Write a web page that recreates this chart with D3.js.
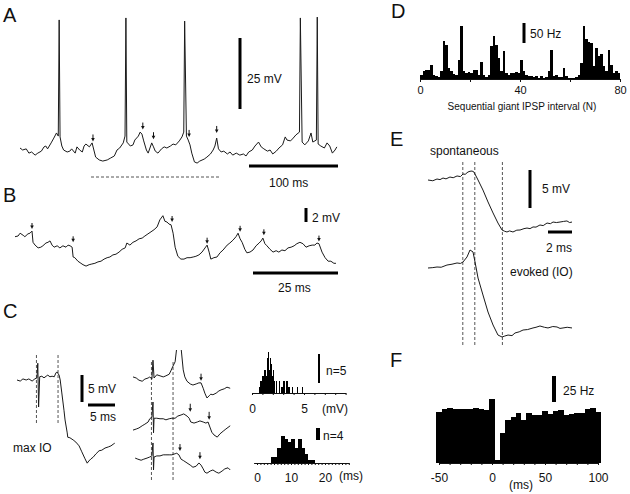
<!DOCTYPE html>
<html lang="en">
<head>
<meta charset="UTF-8">
<title>IPSP figure</title>
<style>
  body { margin: 0; background: #fff; }
  svg { display: block; font-family: "Liberation Sans", Arial, sans-serif; }
  .trace { fill: none; stroke: #1a1a1a; stroke-width: 1; stroke-linejoin: round; }
  .sbar { stroke: #000; }
  .dash { stroke: #555; stroke-width: 1; stroke-dasharray: 3,2; }
  .lbl { font-size: 12px; fill: #111; }
  .panel { font-size: 20px; fill: #111; }
  .hist rect { shape-rendering: crispEdges; }
</style>
<script src="https://d3js.org/d3.v7.min.js"></script>
</head>
<body>
<svg width="630" height="494"></svg>
<script>
// ---- A: long recording, [ms, mV] ----
var aTrace = [[0,0.7],[3,0],[7,0.4],[10,-1.1],[13,-0.7],[17,-1.8],[20,-1.1],[24,-0.4],[27,1.1],[29,1.4],[31,0.4],[35,2.5],[38,4.2],[41,6],[43,4.9],[44,45.8],[45,4.6],[47,1.4],[49,0],[53,-0.7],[56,-0.4],[58,0.4],[62,-1.1],[64,1.1],[67,0],[70,-0.7],[72,1.4],[74,2.1],[78,1.1],[81,2.5],[83,0],[85,-2.5],[89,-3.5],[93,-3.9],[98,-3.5],[102,-2.8],[106,-2.1],[109,0],[112,0.7],[116,2.5],[118,4.9],[119,46.5],[120,2.8],[124,1.4],[127,1.8],[129,3.5],[133,4.9],[135,6.3],[137,5.6],[139,3.2],[142,0],[144,-1.1],[146,0.7],[148,2.5],[150,1.1],[152,-0.4],[155,-1.1],[159,0.4],[162,1.1],[165,0.7],[169,1.4],[172,2.1],[175,1.8],[179,3.2],[182,4.6],[184,6.3],[185,45.4],[187,4.9],[189,3.5],[191,1.8],[193,-1.1],[196,-4.2],[199,-4.6],[202,-3.9],[207,-3.2],[210,-2.5],[214,-1.4],[217,0],[219,1.4],[221,4.2],[223,0.4],[226,-0.7],[229,-0.4],[233,-1.4],[236,-0.7],[239,-1.8],[243,-1.1],[247,-1.8],[251,-1.4],[254,-2.1],[257,-0.7],[261,0],[264,1.4],[268,2.8],[271,1.1],[274,0.4],[278,-0.4],[281,0],[284,-1.4],[288,-0.4],[291,0.7],[295,1.8],[298,4.6],[300,3.5],[304,3.2],[307,4.2],[310,5.3],[314,6.3],[315,46.5],[317,2.8],[320,1.8],[324,3.2],[327,6],[329,2.8],[333,3.5],[334,46.8],[335,2.1],[338,1.4],[342,0.7],[345,2.5],[348,1.4],[351,-1.1],[354,0],[356,1.1]];
var aArrows = [[82,3],[138,7.2],[150,3.8],[190,4.6],[221,6]];

// ---- B: zoomed recording, [ms, mV] ----
var bTrace = [[0,1.9],[0.9,2],[1.5,2.4],[2.4,2.1],[2.9,1.9],[3.8,2.3],[4.4,2.4],[5,2.7],[5.3,1.1],[5.9,0.7],[6.8,0.3],[7.6,0.4],[8.2,0.6],[9.1,1],[9.7,1.1],[10.3,1.3],[10.9,0.7],[11.5,0.4],[12.4,0.6],[13.2,0.3],[14.1,0.6],[15,0.4],[15.6,0.7],[16.2,0.6],[16.8,0.4],[17.1,-1],[17.6,-1.1],[18.5,-1.6],[19.4,-1.9],[20,-2.1],[20.9,-2.3],[21.8,-2.1],[22.6,-2],[23.5,-1.9],[24.4,-1.7],[25.3,-1.6],[26.2,-1.3],[27.1,-1.1],[27.9,-1],[28.8,-0.7],[29.7,-0.6],[30.6,-0.3],[31.5,0.1],[32.4,0.3],[32.9,1],[33.8,0.7],[34.7,1.1],[35.6,1.3],[36.5,1.6],[37.4,1.7],[38.2,2],[39.1,2.3],[40,2.6],[40.9,2.9],[41.8,3.3],[42.6,4.3],[43.5,4.9],[44.1,4.1],[44.7,4],[45.3,3.7],[45.9,3.6],[46.5,2.4],[47.1,0.4],[47.9,-0.9],[48.8,-1.3],[49.7,-1.3],[50.6,-1.1],[51.5,-1.1],[52.4,-1],[53.2,-0.9],[54.1,-0.7],[55,-0.3],[55.9,0.3],[56.5,0.7],[57.1,-0.3],[57.6,-1.3],[58.5,-1.1],[59.4,-1],[60.3,-0.4],[61.2,0],[62.4,0.7],[63.2,1],[64.1,1.4],[65,1.9],[65.6,2.4],[66.2,1.6],[66.8,1.1],[67.6,0.1],[68.2,-0.4],[69.1,-0.3],[70,0],[70.9,0.6],[71.8,1],[72.4,1.3],[72.9,1.7],[73.5,0.9],[74.1,0.6],[75,0.1],[75.9,-0.3],[76.8,-0.1],[77.6,-0.3],[78.5,0],[79.4,-0.1],[80.3,0.3],[81.2,0.4],[82.1,0.6],[82.9,0.9],[83.8,1.1],[84.7,0.9],[85.6,0.4],[86.5,0.6],[87.4,0.7],[88.2,0.7],[88.8,1],[89.4,0.9],[90.3,-0.3],[91.2,-1.1],[92.1,-1.6],[92.9,-1.6],[93.8,-1.9],[94.4,-1.9]];
var bArrows = [[5,3],[17.1,1.1],[46.2,4],[56.5,0.9],[66.2,2.6],[73.2,2.1],[89.4,1.2]];

// ---- C: evoked and spontaneous IPSPs, [ms, mV] ----
var cMaxIO = [[0,0],[0.6,-0.2],[1.1,0.2],[1.7,0],[2.2,0.2],[2.8,-0.2],[3.3,0.2],[3.7,0.4],[3.85,3.1],[4.0,-5],[4.2,0.6],[4.6,0.7],[5,0.4],[5.4,0.7],[5.7,0.9],[6.1,0.6],[6.5,0.7],[6.9,0.6],[7.2,1.3],[7.4,1.5],[7.8,0.9],[8,0],[8.3,-2.4],[8.7,-5.6],[8.9,-7.4],[9.3,-9.8],[9.4,-10.6],[9.8,-10.7],[10.4,-11.1],[10.9,-11.5],[11.5,-12.2],[12,-13.3],[12.6,-14.6],[13,-15.4],[13.3,-15],[13.7,-14.6],[14.1,-14.3],[14.6,-13.7],[15.2,-13.1],[15.7,-13],[16.3,-12.6],[16.9,-12.4],[17.4,-12.2],[17.8,-11.9],[18.1,-11.7]];
var cTrace1 = [[0,0.2],[0.6,0],[1.1,-0.4],[1.7,-0.6],[2.2,-0.2],[2.8,0],[3.1,0.2],[3.5,-0.2],[3.7,3.3],[3.9,0],[4.4,0.6],[5,0.4],[5.6,0.2],[6.1,0.4],[6.7,0.7],[7,1.3],[7.4,2.2],[7.8,3],[8.1,5.6],[8.5,7],[8.9,5.6],[9.3,1.5],[9.6,0.2],[10,-0.6],[10.6,-1.1],[11.1,-1.3],[11.7,-1.1],[12.2,-0.9],[12.6,-0.9],[13,-1.9],[13.3,-2.8],[13.7,-3.7],[14.1,-3.3],[14.4,-3],[14.8,-3.1],[15.4,-2.8],[15.9,-2.4],[16.3,-2.2],[16.9,-2],[17.4,-1.7],[18,-1.9]];
var cTrace2 = [[0,-1.5],[0.6,-1.3],[1.1,-1.1],[1.7,-0.7],[2.2,-0.4],[2.8,0],[3.1,0.6],[3.5,0.9],[3.7,3.7],[3.8,-2],[3.9,0.7],[4.4,0.7],[5,0.6],[5.6,0.6],[6.1,0.4],[6.7,0.6],[7.2,0.7],[7.8,0.7],[8.3,1.1],[8.9,1.3],[9.4,1.5],[10,1.1],[10.4,0.7],[10.7,0],[11.3,-0.2],[11.9,0],[12.4,0.2],[13,0],[13.5,-0.2],[13.9,0],[14.3,-1.1],[14.6,-1.9],[15,-2.4],[15.6,-2.8],[16.1,-2.2],[16.7,-1.7],[17.2,-1.3],[18,-0.7]];
var cTrace3 = [[0.4,-0.2],[0.9,-0.4],[1.5,-0.6],[2,-0.4],[2.6,-0.2],[3.1,0],[3.5,0.2],[3.7,2.6],[3.8,-2.4],[3.9,0],[4.4,0.2],[5,0.2],[5.6,0.4],[6.1,0.4],[6.7,0.4],[7.2,0.4],[7.8,0.6],[8.1,0.7],[8.5,0.4],[8.9,-0.4],[9.4,-0.7],[10,-1.1],[10.6,-1.5],[11.1,-1.9],[11.7,-1.7],[12.2,-1.1],[12.6,-1.5],[13,-2.2],[13.3,-2.8],[13.7,-3],[14.3,-2.6],[14.8,-2.4],[15.4,-2.8],[15.9,-3],[16.5,-2.6],[17,-2.2],[17.6,-2],[18,-2.4]];
var cArrows1 = [[12.6,-0.5]];
var cArrows2 = [[10.6,1.9],[14.1,0.4]];
var cArrows3 = [[8.7,1.1],[12.4,-0.4]];
var cDashes = [3.6, 7.6];

// amplitude histogram (mV bins of 0.1) and latency histogram (ms bins of 1)
var ampMv = [0.7,0.8,0.9,1.0,1.1,1.2,1.3,1.4,1.5,1.6,1.7,1.8,1.9,2.0,2.1,2.3,2.6,2.8,3.0,3.3,3.5,3.8,4.3,4.8];
var ampN  = [1,2,1,3,2,4,3,6,7,4,6,5,3,4,2,2,2,1,2,2,1,1,1,1];
var latMs = [4,5,6,7,8,9,10,11,12,13,14,15,16];
var latN  = [2,2,5,9,8,7,8,5,8,5,3,1,1];

// ---- D: rate per sequential interval (Hz) ----
var dRate = [11,19,22,22,35,10,8,5,20,95, 85,28,20,12,10,48,132,20,15,18, 15,22,22,10,42,10,5,10,82,108, 85,52,20,70,15,10,15,15,18,15, 48,20,10,8,8,5,8,3,8,3, 5,20,72,8,10,5,5,28,8,3, 3,3,5,10,40,132,100,92,90,32, 78,58,62,32,20,72,35,15,20,15];

// ---- E: spontaneous vs evoked, [ms, mV] ----
var eSpont = [[0,0],[0.4,-0.1],[0.75,0.13],[1,0.05],[1.25,0.26],[1.5,0.15],[1.83,0.39],[2.1,0.3],[2.42,0.53],[2.7,0.45],[2.92,0.79],[3.1,0.75],[3.33,1.05],[3.5,1.15],[3.67,1.18],[3.83,1.05],[4.17,0],[4.58,-1.32],[5,-2.89],[5.42,-4.34],[5.83,-5.66],[6.17,-6.58],[6.4,-6.75],[6.58,-6.84],[6.8,-6.7],[7.08,-6.84],[7.4,-6.6],[7.67,-6.58],[8,-6.4],[8.25,-6.32],[8.5,-6.4],[8.75,-6.18],[9,-6.2],[9.33,-5.92],[9.6,-6],[9.92,-5.66],[10.2,-5.75],[10.42,-5.53],[10.7,-5.6],[11,-5.53],[11.3,-5.45],[11.58,-5.39],[11.8,-5.6],[12,-5.53]];
var eEvoked = [[0,0],[0.4,0.05],[0.75,0.13],[1.1,0.1],[1.58,0.39],[2,0.5],[2.42,0.66],[2.7,0.6],[2.92,0.79],[3.25,1.45],[3.5,2.37],[3.75,2.11],[3.92,0.79],[4.17,-1.32],[4.58,-3.55],[5,-5.79],[5.42,-7.5],[5.83,-8.82],[6.17,-9.08],[6.4,-8.95],[6.67,-8.82],[7,-8.9],[7.25,-8.55],[7.6,-8.4],[7.92,-8.16],[8.3,-8.1],[8.75,-7.89],[9,-7.8],[9.33,-7.63],[9.7,-7.8],[10,-7.89],[10.4,-7.7],[10.75,-7.76],[11,-7.95],[11.25,-7.89],[11.6,-7.8],[12,-7.89]];
var eDashes = [2.9, 3.9, 6.2];

// ---- F: cross-correlogram (ms bin centres, Hz) ----
var fBins = [-50,-45,-40,-35,-30,-25,-20,-15,-10,-5,0,5,10,15,20,25,30,35,40,45,50,55,60,65,70,75,80,85,90,95,100];
var fRate = [49,52,53,52,52,52,52,53,52,51,62,3,29,41,44,48,41,48,46,46,50,47,50,51,46,47,48,48,52,53,49];

var svg = d3.select("svg");
svg.append("rect").attr("width", 630).attr("height", 494).attr("fill", "#fff");

function panelLetter(t, x, y) {
    svg.append("text").attr("class", "panel").attr("x", x).attr("y", y).text(t);
}
function label(t, x, y, size, anchor) {
    svg.append("text").attr("class", "lbl").attr("x", x).attr("y", y)
        .style("font-size", (size || 12) + "px")
        .attr("text-anchor", anchor || "start").text(t);
}
function vBar(x, y, len, w) {
    svg.append("line").attr("class", "sbar").attr("x1", x).attr("x2", x)
        .attr("y1", y).attr("y2", y + len).attr("stroke-width", w || 3);
}
function hBar(x, y, len, w) {
    svg.append("line").attr("class", "sbar").attr("x1", x).attr("x2", x + len)
        .attr("y1", y).attr("y2", y).attr("stroke-width", w || 3);
}
function arrow(x, y, len) {
    svg.append("line").attr("x1", x).attr("x2", x).attr("y1", y - len).attr("y2", y - 3)
        .attr("stroke", "#111").attr("stroke-width", 1);
    svg.append("path").attr("d", "M" + (x - 1.8) + "," + (y - 3.5) + "L" + (x + 1.8) + "," + (y - 3.5) + "L" + x + "," + y + "Z")
        .attr("fill", "#111");
}
function trace(data, x, y, clip) {
    var line = d3.line().x(function (d) { return x(d[0]); }).y(function (d) { return y(d[1]); });
    var p = svg.append("path").datum(data).attr("class", "trace").attr("d", line);
    if (clip) p.attr("clip-path", clip);
    return p;
}
function dashV(x, y1, y2) {
    svg.append("line").attr("class", "dash").attr("x1", x).attr("x2", x).attr("y1", y1).attr("y2", y2);
}
function styleAxis(g, fs) {
    g.attr("font-size", fs).attr("font-family", null);
    g.selectAll("path, line").attr("stroke", "#111");
    g.selectAll("text").attr("fill", "#111");
}

// ===== A =====
panelLetter("A", 3, 22);
var xA = d3.scaleLinear().domain([0, 100]).range([20, 109]);
var yA = d3.scaleLinear().domain([0, 25]).range([150, 79]);
trace(aTrace, xA, yA);
aArrows.forEach(function (d) { arrow(xA(d[0]), yA(d[1]), 7); });
vBar(240, 38, yA(0) - yA(25));
label("25 mV", 247, 83);
hBar(249, 166, xA(100) - xA(0));
label("100 ms", 269, 187);
svg.append("line").attr("class", "dash").attr("x1", 91).attr("x2", 220).attr("y1", 177).attr("y2", 177);

// ===== B =====
panelLetter("B", 3, 202);
var xB = d3.scaleLinear().domain([0, 25]).range([15, 100]);
var yB = d3.scaleLinear().domain([0, 2]).range([250, 236]);
trace(bTrace, xB, yB);
bArrows.forEach(function (d) { arrow(xB(d[0]), yB(d[1]), 6); });
vBar(306, 208, yB(0) - yB(2));
label("2 mV", 312, 222);
hBar(253, 273, xB(25) - xB(0));
label("25 ms", 278, 292);

// ===== C =====
panelLetter("C", 3, 318);
var xC = d3.scaleLinear().domain([0, 5]).range([17, 44]);
var yC = d3.scaleLinear().domain([0, 5]).range([380, 353]);
cDashes.forEach(function (t) { dashV(xC(t), 355, 423); });
trace(cMaxIO, xC, yC);
vBar(82, 375, yC(0) - yC(5));
hBar(88, 405, xC(5) - xC(0));
label("5 mV", 88, 393);
label("5 ms", 90, 421);
label("max IO", 13, 452);

var xC2 = d3.scaleLinear().domain([0, 5]).range([133, 160]);
var yC1 = d3.scaleLinear().domain([0, 5]).range([378, 351]);
var yC2 = d3.scaleLinear().domain([0, 5]).range([422, 395]);
var yC3 = d3.scaleLinear().domain([0, 5]).range([457, 430]);
svg.append("clipPath").attr("id", "clipC1").append("rect")
    .attr("x", 125).attr("y", 350).attr("width", 115).attr("height", 60);
cDashes.forEach(function (t) { dashV(xC2(t) - 1, 362, 482); });
trace(cTrace1, xC2, yC1, "url(#clipC1)");
trace(cTrace2, xC2, yC2);
trace(cTrace3, xC2, yC3);
cArrows1.forEach(function (d) { arrow(xC2(d[0]), yC1(d[1]), 7); });
cArrows2.forEach(function (d) { arrow(xC2(d[0]), yC2(d[1]), 8); });
cArrows3.forEach(function (d) { arrow(xC2(d[0]), yC3(d[1]), 7); });

// amplitude histogram
var xH1 = d3.scaleLinear().domain([0, 9]).range([252, 345.6]);
var yH1 = d3.scaleLinear().domain([0, 5]).range([393, 364]);
svg.append("g").attr("class", "hist").selectAll("rect").data(ampMv).enter().append("rect")
    .attr("x", function (d) { return xH1(d); })
    .attr("width", 1.4)
    .attr("y", function (d, i) { return yH1(ampN[i]); })
    .attr("height", function (d, i) { return yH1(0) - yH1(ampN[i]); })
    .attr("fill", "#000");
var gH1 = svg.append("g").attr("transform", "translate(0," + yH1(0) + ")")
    .call(d3.axisBottom(xH1).tickValues(d3.range(0, 10)).tickSize(2).tickSizeOuter(0).tickPadding(9)
        .tickFormat(function (d) { return (d === 0 || d === 5) ? String(d) : ""; }));
styleAxis(gH1, 12);
label("(mV)", 335, 413, 12, "middle");
vBar(319, 354, yH1(0) - yH1(5), 2);
label("n=5", 326, 375);

// latency histogram
var xH2 = d3.scaleLinear().domain([-1, 27]).range([253.6, 348.8]);
var yH2 = d3.scaleLinear().domain([0, 4]).range([463, 451]);
svg.append("g").attr("class", "hist").selectAll("rect").data(latMs).enter().append("rect")
    .attr("x", function (d) { return xH2(d); })
    .attr("width", xH2(1) - xH2(0) + 0.4)
    .attr("y", function (d, i) { return yH2(latN[i]); })
    .attr("height", function (d, i) { return yH2(0) - yH2(latN[i]); })
    .attr("fill", "#000");
var gH2 = svg.append("g").attr("transform", "translate(0," + yH2(0) + ")")
    .call(d3.axisBottom(xH2).tickValues(d3.range(0, 28)).tickSize(2).tickSizeOuter(0).tickPadding(8)
        .tickFormat(function (d) { return (d % 10 === 0) ? String(d) : ""; }));
styleAxis(gH2, 12);
label("(ms)", 351, 480, 12, "middle");
vBar(318, 428, yH2(0) - yH2(4), 4);
label("n=4", 323, 440);

// ===== D =====
panelLetter("D", 391, 18);
var xD = d3.scaleLinear().domain([0, 80]).range([420, 620]);
var yD = d3.scaleLinear().domain([0, 50]).range([79, 59]);
svg.append("g").attr("class", "hist").selectAll("rect").data(dRate).enter().append("rect")
    .attr("x", function (d, i) { return xD(i); })
    .attr("width", xD(1) - xD(0))
    .attr("y", function (d) { return yD(d); })
    .attr("height", function (d) { return yD(0) - yD(d); })
    .attr("fill", "#000");
var gD = svg.append("g").attr("transform", "translate(0," + yD(0) + ")")
    .call(d3.axisBottom(xD).tickValues([0, 20, 40, 60, 80]).tickSize(3).tickSizeOuter(0).tickPadding(4)
        .tickFormat(function (d) { return (d % 40 === 0) ? String(d) : ""; }));
styleAxis(gD, 11);
label("Sequential giant IPSP interval (N)", 522, 110, 10, "middle");
vBar(524, 23, yD(0) - yD(50));
label("50 Hz", 530, 38);

// ===== E =====
panelLetter("E", 390, 146);
var xE = d3.scaleLinear().domain([0, 2]).range([428, 452]);
var yE1 = d3.scaleLinear().domain([0, 5]).range([180, 142]);
var yE2 = d3.scaleLinear().domain([0, 5]).range([268, 230]);
eDashes.forEach(function (t) { dashV(xE(t), 162, 345); });
trace(eSpont, xE, yE1);
trace(eEvoked, xE, yE2);
label("spontaneous", 430, 155);
vBar(530, 170, yE1(0) - yE1(5));
label("5 mV", 542, 193);
hBar(548, 232, xE(2) - xE(0));
label("2 ms", 546, 252);
label("evoked (IO)", 510, 276);

// ===== F =====
panelLetter("F", 390, 367);
var xF = d3.scaleLinear().domain([-50, 100]).range([439, 598]);
var yF = d3.scaleLinear().domain([0, 25]).range([463, 437]);
svg.append("g").attr("class", "hist").selectAll("rect").data(fBins).enter().append("rect")
    .attr("x", function (d) { return xF(d - 2.5); })
    .attr("width", xF(5) - xF(0) + 0.3)
    .attr("y", function (d, i) { return yF(fRate[i]); })
    .attr("height", function (d, i) { return yF(0) - yF(fRate[i]); })
    .attr("fill", "#000");
var gF = svg.append("g").attr("transform", "translate(0," + yF(0) + ")")
    .call(d3.axisBottom(xF).tickValues(d3.range(-50, 101, 10)).tickSize(2).tickSizeOuter(0).tickPadding(8)
        .tickFormat(function (d) { return (d % 50 === 0) ? String(d) : ""; }));
styleAxis(gF, 12);
label("(ms)", 521, 489, 12, "middle");
vBar(554, 376, yF(0) - yF(25), 4);
label("25 Hz", 563, 395);
</script>
</body>
</html>
